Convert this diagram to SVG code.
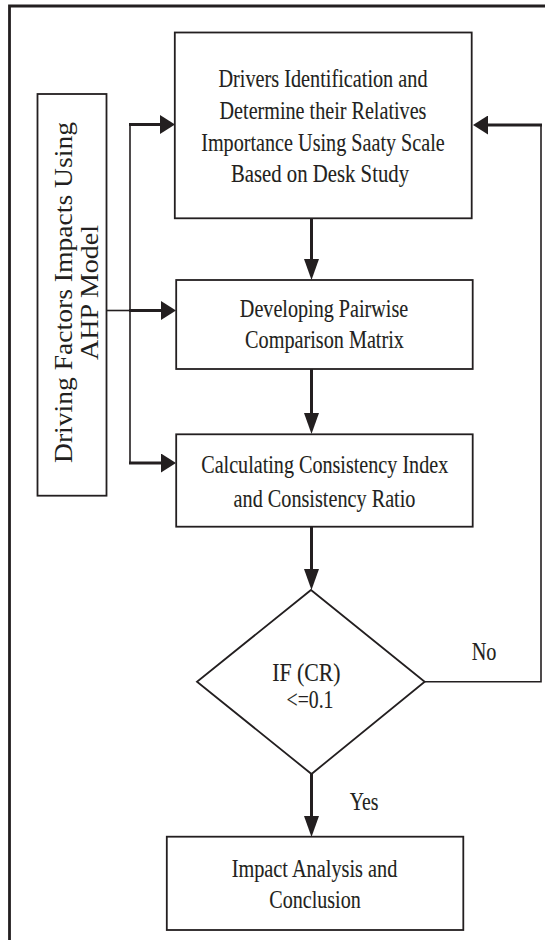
<svg xmlns="http://www.w3.org/2000/svg" width="545" height="940" viewBox="0 0 545 940">
<style>
  .box { fill: #fff; stroke: #231f20; stroke-width: 1.8; }
  .t { font-family: "Liberation Serif", "Times New Roman", serif; font-size: 25px; fill: #231f20; stroke: #231f20; stroke-width: 0.12; text-anchor: middle; }
  .rt { font-family: "Liberation Serif", "Times New Roman", serif; font-size: 25px; fill: #231f20; text-anchor: middle; }
  .thin { fill: none; stroke: #231f20; stroke-width: 1.6; }
  .thick { fill: none; stroke: #231f20; stroke-width: 3; }
  .frame { fill: none; stroke: #231f20; stroke-width: 2.8; }
</style>
<defs>
  <marker id="ah" markerUnits="userSpaceOnUse" viewBox="0 0 15 19" refX="0" refY="9.5" markerWidth="15" markerHeight="19" orient="auto">
    <path d="M0,0 L15,9.5 L0,19 Z" fill="#231f20"/>
  </marker>
  <marker id="av" markerUnits="userSpaceOnUse" viewBox="0 0 21 15" refX="0" refY="7.5" markerWidth="21" markerHeight="15" orient="auto">
    <path d="M0,0 L21,7.5 L0,15 Z" fill="#231f20"/>
  </marker>
</defs>
<rect width="545" height="940" fill="#fff"/>
<path class="frame" d="M9.5,940 V6 H545"/>

<g id="connectors">
  <line class="thin" x1="130" y1="123.5" x2="130" y2="464"/>
  <line class="thin" x1="106.5" y1="310.5" x2="130" y2="310.5"/>
  <line class="thick" x1="129" y1="124.5" x2="160" y2="124.5" marker-end="url(#ah)"/>
  <line class="thick" x1="129" y1="310.5" x2="161" y2="310.5" marker-end="url(#ah)"/>
  <line class="thick" x1="129" y1="463" x2="161" y2="463" marker-end="url(#ah)"/>
  <polyline class="thin" points="424.7,681.7 541,681.7 541,124"/>
  <line class="thick" x1="542" y1="125" x2="488" y2="125" marker-end="url(#ah)"/>
  <line class="thick" x1="311.5" y1="218.5" x2="311.5" y2="259" marker-end="url(#av)"/>
  <line class="thick" x1="311.5" y1="369" x2="311.5" y2="413" marker-end="url(#av)"/>
  <line class="thick" x1="311.5" y1="526.7" x2="311.5" y2="569" marker-end="url(#av)"/>
  <line class="thick" x1="311.5" y1="774" x2="311.5" y2="816" marker-end="url(#av)"/>
  <text class="t" transform="translate(484,659.5) scale(0.81,1)">No</text>
  <text class="t" transform="translate(364,810) scale(0.79,1)">Yes</text>
</g>

<g id="ahp-model">
  <rect class="box" x="37.5" y="94" width="69" height="401.7"/>
  <text class="rt" transform="translate(71.5,292.5) rotate(-90)" textLength="341" lengthAdjust="spacingAndGlyphs">Driving Factors Impacts Using</text>
  <text class="rt" transform="translate(97.5,292.5) rotate(-90)" textLength="135" lengthAdjust="spacingAndGlyphs">AHP Model</text>
</g>

<g id="drivers">
  <rect class="box" x="174.8" y="32.5" width="296.9" height="185.8"/>
  <text class="t" transform="translate(323,87.3) scale(0.81,1)">Drivers Identification and</text>
  <text class="t" transform="translate(323,119) scale(0.806,1)">Determine their Relatives</text>
  <text class="t" transform="translate(323,150.7) scale(0.807,1)">Importance Using Saaty Scale</text>
  <text class="t" transform="translate(320,182.3) scale(0.83,1)">Based on Desk Study</text>
</g>

<g id="pairwise">
  <rect class="box" x="176.2" y="280" width="296.5" height="89"/>
  <text class="t" transform="translate(324,317.3) scale(0.806,1)">Developing Pairwise</text>
  <text class="t" transform="translate(324.5,348.3) scale(0.809,1)">Comparison Matrix</text>
</g>

<g id="consistency">
  <rect class="box" x="176.2" y="434.3" width="296.5" height="92.4"/>
  <text class="t" transform="translate(324.7,472.5) scale(0.805,1)">Calculating Consistency Index</text>
  <text class="t" transform="translate(324.5,506.5) scale(0.809,1)">and Consistency Ratio</text>
</g>

<g id="decision">
  <polygon class="box" points="311,590 424.7,681.7 311.5,774 197,681.7"/>
  <text class="t" transform="translate(306.4,680.7) scale(0.87,1)">IF (CR)</text>
  <text class="t" transform="translate(310,708.3) scale(0.79,1)">&lt;=0.1</text>
</g>

<g id="impact">
  <rect class="box" x="166.8" y="836.7" width="296.5" height="93.3"/>
  <text class="t" transform="translate(314.5,876.7) scale(0.812,1)">Impact Analysis and</text>
  <text class="t" transform="translate(315,908.3) scale(0.803,1)">Conclusion</text>
</g>
</svg>
